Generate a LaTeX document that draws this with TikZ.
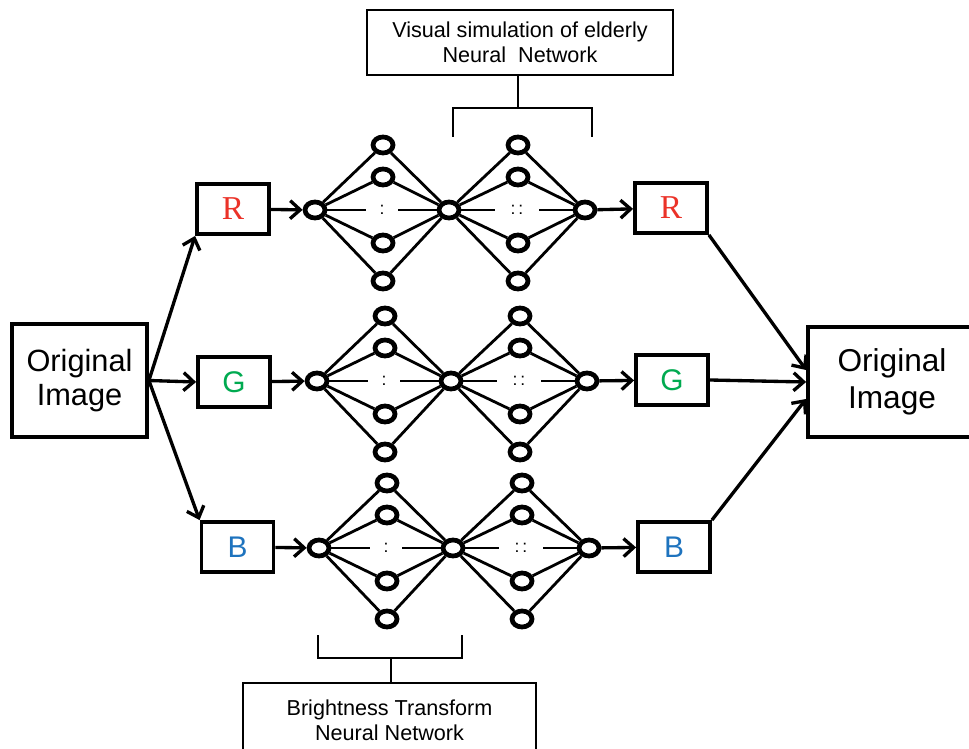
\documentclass[tikz,border=0pt]{standalone}
\usepackage{fontspec}
\setmainfont{Liberation Sans}
\newfontfamily\serifR{Liberation Serif}
\usetikzlibrary{arrows.meta,shapes.geometric}

\definecolor{chR}{RGB}{235,50,40}
\definecolor{chG}{RGB}{0,170,80}
\definecolor{chB}{RGB}{30,115,190}

\tikzset{
	imgbox/.style  = {draw, line width=2.2pt, minimum width=2.7cm, minimum height=2.26cm, align=center},
	chan/.style    = {draw, line width=2.2pt, minimum width=1.44cm, minimum height=1.0cm, inner sep=0pt},
	unit/.style    = {draw, ellipse, line width=2.7pt, minimum width=0.40cm, minimum height=0.32cm, inner sep=0pt},
	link/.style    = {line width=1.6pt},
	flow/.style    = {line width=1.9pt, ->},
	gap/.style     = {fill=white, inner sep=0pt, minimum height=0.2cm, font=\fontsize{10}{10}\selectfont},
	tagbox/.style  = {draw, align=center, font=\fontsize{12.3}{14.2}\selectfont},
	bracket/.style = {line width=1.5pt}
}

\begin{document}
\begin{tikzpicture}[x=0.02cm, y=-0.02cm, >={Straight Barb[length=0.2cm,width=0.36cm]}]
	
	\useasboundingbox (0,0) rectangle (969,749);
	\clip (0,0) rectangle (969,749);
	
	%% INPUT / OUTPUT IMAGE
	
	\node[imgbox, font=\fontsize{17.5}{19.3}\selectfont] (imgL) at (79.5,380.5) {Original\\Image};
	\node[imgbox, minimum width=3.36cm, minimum height=2.2cm, font=\fontsize{18}{21}\selectfont] (imgR) at (892,382) {Original\\Image};
	
	% Channels in
	\node[chan, font=\serifR\fontsize{19}{19}\selectfont, text=chR] (R) at (233,209) {R};
	\node[chan, font=\fontsize{17}{17}\selectfont, text=chG] (G) at (234,382) {G};
	\node[chan, font=\fontsize{17}{17}\selectfont, text=chB] (B) at (237.5,547) {B};
	
	% Channels out
	\node[chan, font=\serifR\fontsize{19}{19}\selectfont, text=chR] (Rout) at (671,208) {R};
	\node[chan, font=\fontsize{17}{17}\selectfont, text=chG] (Gout) at (672,380) {G};
	\node[chan, font=\fontsize{17}{17}\selectfont, text=chB] (Bout) at (674,547) {B};
	
	%% NETWORKS
	
	\foreach \ch/\dx/\y in {R/0/210, G/2/381, B/4/548}
	{
		\begin{scope}[shift={(\dx,\y)}]
			\node[unit] (\ch-in)  at (315,0) {};
			\node[unit] (\ch-mid) at (449,0) {};
			\node[unit] (\ch-out) at (585,0) {};
			\foreach \i/\dy in {1/-65, 2/-33, 3/33, 4/71}
			{
				\node[unit] (\ch-h\i) at (383,\dy) {};
				\node[unit] (\ch-k\i) at (518,\dy) {};
				\draw[link] (\ch-in) -- (\ch-h\i) -- (\ch-mid) -- (\ch-k\i) -- (\ch-out);
			}
			\draw[link] (\ch-in)  -- node[gap, minimum width=0.64cm] {:} (\ch-mid);
			\draw[link] (\ch-mid) -- node[gap, minimum width=0.88cm] {:\,:} (\ch-out);
		\end{scope}
		
		% into and out of the network
		\draw[flow] (\ch) -- (\ch-in);
		\draw[flow] (\ch-out) -- (\ch out);
	}
	
	%% SPLIT AND MERGE
	
	\draw[flow] (imgL.east) -- (R.south west);
	\draw[flow] (imgL.east) -- (G.west);
	\draw[flow] (imgL.east) -- (B.north west);
	
	\draw[flow] (Rout.south east) -- ([yshift=0.24cm]imgR.west);
	\draw[flow] (Gout.east) -- (imgR.west);
	\draw[flow] (Bout.north east) -- ([yshift=-0.34cm]imgR.west);
	
	%% LABELS
	
	% Top label
	\node[tagbox, line width=1.5pt, minimum width=6.12cm, minimum height=1.3cm] (simNN) at (520,42.5)
		{Visual simulation of elderly\\Neural\ \ Network};
	\coordinate (simBr) at (518,108);
	\draw[bracket] (simNN.south -| simBr) -- (simBr);
	\draw[bracket] (453,137) -- (453,108) -- (592,108) -- (592,137);
	
	% Bottom label
	\node[tagbox, line width=1.2pt, minimum width=5.86cm, minimum height=1.48cm] (brNN) at (389.5,720)
		{Brightness Transform\\Neural Network};
	\coordinate (brBr) at (391,658);
	\draw[bracket] (brBr) -- (brBr |- brNN.north);
	\draw[bracket] (318,635) -- (318,658) -- (462,658) -- (462,635);
	
\end{tikzpicture}
\end{document}
